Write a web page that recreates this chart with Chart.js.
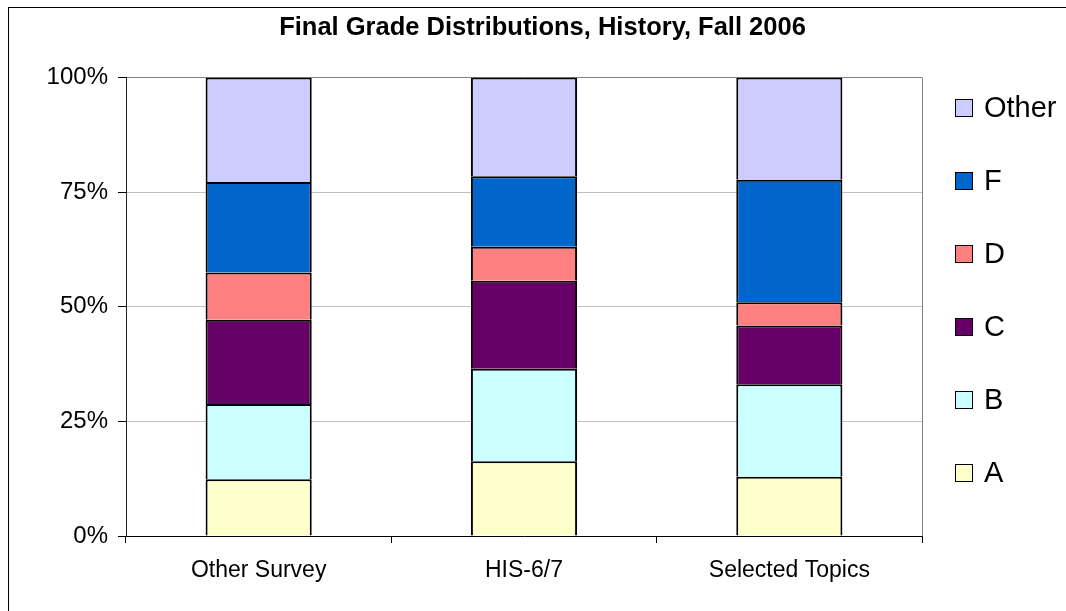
<!DOCTYPE html>
<html>
<head>
<meta charset="utf-8">
<script src="https://cdn.jsdelivr.net/npm/chart.js@4"></script>
<style>
  body { margin: 0; background: #fff; font-family: "Liberation Sans", Arial, sans-serif; }
  #wrap { position: relative; width: 1066px; height: 611px; overflow: hidden; }
  #frame { position: absolute; left: 8px; top: 7px; width: 1080px; height: 620px; border: 1px solid #000; }
  #graph { position: absolute; left: 0; top: 0; }
  #legend { position: absolute; left: 955px; top: 71px; }
  .item { height: 73px; display: flex; align-items: center; font-size: 29px; color: #000; }
  .box { width: 16px; height: 16px; border: 1.5px solid #000; margin-right: 11px; }
</style>
</head>
<body>
<div id="wrap">
  <div id="frame"></div>
  <canvas id="graph" width="1066" height="611"></canvas>
  <div id="legend"></div>
</div>
<script>
const courses = ['Other Survey', 'HIS-6/7', 'Selected Topics']
const yTicks = [0, 25, 50, 75, 100]

// percent of students per grade, bottom to top of each bar
const gradeA =     [12.4, 16.3, 12.9]
const gradeB =     [16.4, 20.2, 20.2]
const gradeC =     [18.4, 19.2, 12.8]
const gradeD =     [10.3, 7.4, 5.1]
const gradeF =     [19.7, 15.4, 26.7]
const gradeOther = [22.8, 21.5, 22.3]

const yellowLight = '#FFFFCC'
const cyanLight =   '#CCFFFF'
const plum =        '#660066'
const salmon =      '#FF8080'
const blue =        '#0066CC'
const lavender =    '#CCCCFF'

const font = '"Liberation Sans", Arial, sans-serif'

function bars(label, data, color) {
    return {
        label: label,
        data: data,
        backgroundColor: color,
        borderColor: '#000',
        borderWidth: 2,
        borderSkipped: 'start',
        barPercentage: 0.4,
        categoryPercentage: 1.0
    }
}

// gray line on the right edge of the plot area
const plotBorder = {
    id: 'plotBorder',
    beforeDatasetsDraw(chart) {
        const {ctx, chartArea} = chart
        ctx.save()
        ctx.strokeStyle = '#808080'
        ctx.lineWidth = 1
        ctx.beginPath()
        ctx.moveTo(chartArea.right + 0.5, chartArea.top)
        ctx.lineTo(chartArea.right + 0.5, chartArea.bottom)
        ctx.stroke()
        ctx.restore()
    }
}

const myChart = new Chart(document.getElementById('graph'), {
    type: 'bar',
    data: {
        labels: courses,
        datasets: [
            bars('A', gradeA, yellowLight),
            bars('B', gradeB, cyanLight),
            bars('C', gradeC, plum),
            bars('D', gradeD, salmon),
            bars('F', gradeF, blue),
            bars('Other', gradeOther, lavender)
        ]
    },
    options: {
        responsive: false,
        animation: false,
        layout: { padding: { left: 19, right: 0, top: 0, bottom: 0 } },
        plugins: {
            legend: { display: false },
            tooltip: { enabled: false },
            title: {
                display: true,
                text: 'Final Grade Distributions, History, Fall 2006',
                color: '#000',
                font: { family: font, size: 25.5, weight: 'bold' },
                padding: { top: 13, bottom: 34 }
            }
        },
        scales: {
            x: {
                stacked: true,
                border: { color: '#000', width: 1 },
                grid: { offset: true, drawOnChartArea: false, tickLength: 7, tickColor: '#000' },
                ticks: { color: '#000', padding: 14, font: { family: font, size: 23 } },
                afterFit: (scale) => { scale.height = 75 }
            },
            y: {
                stacked: true,
                min: 0,
                max: 100,
                border: { color: '#222', width: 1 },
                grid: {
                    tickLength: 8,
                    tickColor: '#000',
                    color: (c) => c.tick.value === 100 ? '#808080' : (c.tick.value === 0 ? 'rgba(0,0,0,0)' : '#c0c0c0')
                },
                afterBuildTicks: (scale) => { scale.ticks = yTicks.map(v => ({value: v})) },
                ticks: {
                    color: '#000',
                    padding: 10,
                    font: { family: font, size: 24 },
                    callback: (v) => v + '%'
                },
                afterFit: (scale) => { scale.width = 107 }
            },
            // empty right axis, keeps room for the legend
            pad: {
                type: 'linear',
                position: 'right',
                grid: { display: false },
                border: { display: false },
                ticks: { display: false },
                afterFit: (scale) => { scale.width = 144 }
            }
        }
    },
    plugins: [plotBorder]
})

// legend, top to bottom = Other ... A
const legendDiv = document.getElementById('legend')
myChart.data.datasets.slice().reverse().forEach(ds => {
    const row = document.createElement('div')
    row.className = 'item'
    const box = document.createElement('span')
    box.className = 'box'
    box.style.background = ds.backgroundColor
    row.appendChild(box)
    row.appendChild(document.createTextNode(ds.label))
    legendDiv.appendChild(row)
})
</script>
</body>
</html>
